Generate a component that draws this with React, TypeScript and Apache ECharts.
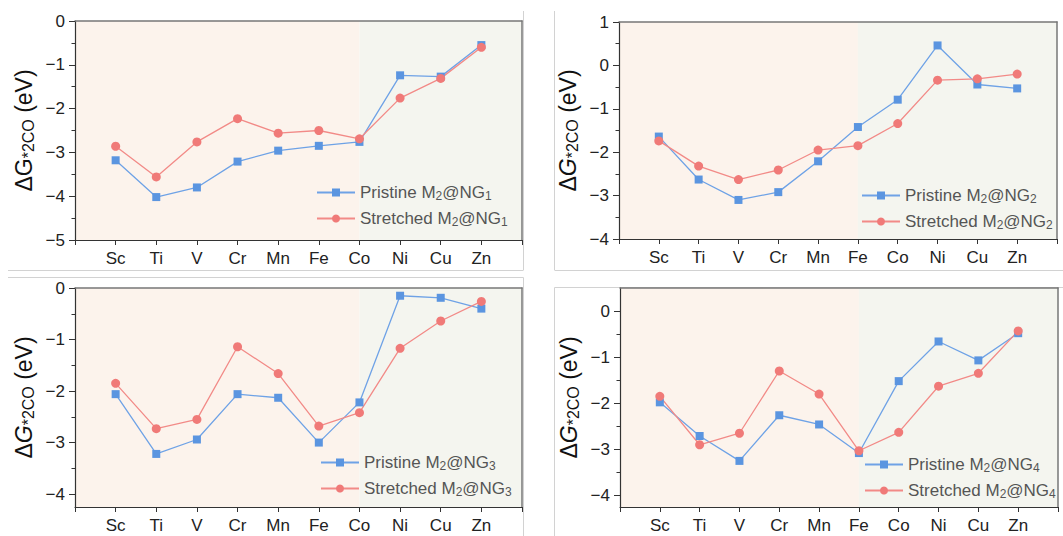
import React, { useEffect, useRef } from "react";
import * as echarts from "echarts";

// Transition metals along the x axis
const metals = ["Sc", "Ti", "V", "Cr", "Mn", "Fe", "Co", "Ni", "Cu", "Zn"];

// ΔG*2CO (eV), pristine vs stretched substrates
const pristineNG1 = [-3.18, -4.02, -3.8, -3.21, -2.96, -2.85, -2.76, -1.24, -1.27, -0.55];
const stretchedNG1 = [-2.86, -3.56, -2.76, -2.23, -2.56, -2.5, -2.69, -1.76, -1.31, -0.6];

const pristineNG2 = [-1.64, -2.63, -3.1, -2.92, -2.21, -1.42, -0.79, 0.46, -0.44, -0.53];
const stretchedNG2 = [-1.74, -2.32, -2.63, -2.41, -1.95, -1.85, -1.34, -0.34, -0.31, -0.2];

const pristineNG3 = [-2.06, -3.22, -2.94, -2.06, -2.13, -3.0, -2.22, -0.15, -0.19, -0.4];
const stretchedNG3 = [-1.85, -2.73, -2.55, -1.14, -1.66, -2.68, -2.42, -1.17, -0.64, -0.26];

const pristineNG4 = [-1.98, -2.71, -3.25, -2.26, -2.46, -3.08, -1.52, -0.66, -1.07, -0.48];
const stretchedNG4 = [-1.85, -2.9, -2.65, -1.3, -1.8, -3.03, -2.63, -1.63, -1.35, -0.43];

// y ranges and ticks per panel
const yRanges = [
  [-5, 0],
  [-4, 1],
  [-4.25, 0],
  [-4.25, 0.5],
];
const yMajor = [
  [-5, -4, -3, -2, -1, 0],
  [-4, -3, -2, -1, 0, 1],
  [-4, -3, -2, -1, 0],
  [-4, -3, -2, -1, 0],
];
const yMinor = [
  [-4.5, -3.5, -2.5, -1.5, -0.5],
  [-3.5, -2.5, -1.5, -0.5, 0.5],
  [-3.5, -2.5, -1.5, -0.5],
  [-3.5, -2.5, -1.5, -0.5],
];
// metal position (1-based) where the shading changes colour
const shadeSplit = [7, 6, 7, 6];

const FONT = "'Liberation Sans', Arial, Helvetica, sans-serif";
const BLUE = "#5b95e0";
const BLUE_LINE = "#6ea2e6";
const RED = "#f07a78";
const RED_LINE = "#f28a87";
const PEACH = "#fcf3ec";
const SAGE = "#f4f5ef";

const panels = [
  { pristine: pristineNG1, stretched: stretchedNG1, grid: { left: 75, top: 21, width: 447, height: 219 }, legend: { left: 311, top: 178 }, italic: false },
  { pristine: pristineNG2, stretched: stretchedNG2, grid: { left: 619, top: 22, width: 438, height: 217 }, legend: { left: 856, top: 181 }, italic: true },
  { pristine: pristineNG3, stretched: stretchedNG3, grid: { left: 75, top: 288, width: 447, height: 219 }, legend: { left: 315, top: 448 }, italic: true },
  { pristine: pristineNG4, stretched: stretchedNG4, grid: { left: 620, top: 288, width: 438, height: 219 }, legend: { left: 859, top: 450 }, italic: true },
];

const minus = (v: number) => String(v).replace("-", "\u2212");

function buildOption() {
  const grid: any[] = [];
  const xAxis: any[] = [];
  const yAxis: any[] = [];
  const series: any[] = [];
  const legend: any[] = [];

  panels.forEach((p, k) => {
    const [ymin, ymax] = yRanges[k];
    grid.push({ ...p.grid, containLabel: false });

    // bottom axis
    xAxis.push({
      type: "value",
      gridIndex: k,
      min: 0,
      max: metals.length + 1,
      interval: 1,
      z: 3,
      splitLine: { show: false },
      axisLine: { onZero: false, lineStyle: { color: "#333", width: 1.2 } },
      axisTick: { show: true, length: 5, lineStyle: { color: "#333" } },
      axisLabel: {
        margin: 10,
        fontFamily: FONT,
        fontSize: 17,
        color: "#222",
        showMinLabel: true,
        showMaxLabel: true,
        formatter: (v: number) => metals[v - 1] ?? "",
      },
    });
    // top frame
    xAxis.push({
      type: "value",
      gridIndex: k,
      position: "top",
      min: 0,
      max: metals.length + 1,
      z: 3,
      splitLine: { show: false },
      axisLine: { onZero: false, lineStyle: { color: "#777", width: 1.5 } },
      axisTick: { show: false },
      axisLabel: { show: false },
    });

    const g = p.italic ? "gi" : "g";
    // left axis with major ticks and labels
    yAxis.push({
      type: "value",
      gridIndex: k,
      position: "left",
      min: ymin,
      max: ymax,
      z: 3,
      splitLine: { show: false },
      axisLine: { onZero: false, lineStyle: { color: "#333", width: 1.2 } },
      axisTick: { show: true, length: 6, customValues: yMajor[k], lineStyle: { color: "#333" } },
      axisLabel: {
        margin: 10,
        fontFamily: FONT,
        fontSize: 17,
        color: "#222",
        customValues: yMajor[k],
        formatter: minus,
      },
      name: `{d|\u0394}{${g}|G}{s|*2CO}{d| (eV)}`,
      nameLocation: "middle",
      nameRotate: 90,
      nameGap: 38,
      nameTextStyle: {
        rich: {
          d: { fontFamily: FONT, fontSize: 23, color: "#111", lineHeight: 26 },
          g: { fontFamily: FONT, fontSize: 23, color: "#111", lineHeight: 26 },
          gi: { fontFamily: FONT, fontSize: 23, fontStyle: "italic", color: "#111", lineHeight: 26 },
          s: { fontFamily: FONT, fontSize: 16, color: "#111", lineHeight: 18, padding: [8, 0, 0, 0] },
        },
      },
    });
    // minor ticks
    yAxis.push({
      type: "value",
      gridIndex: k,
      position: "left",
      min: ymin,
      max: ymax,
      z: 3,
      splitLine: { show: false },
      axisLine: { show: false, onZero: false },
      axisTick: { show: true, length: 3.5, customValues: yMinor[k], lineStyle: { color: "#333" } },
      axisLabel: { show: false },
    });
    // right frame
    yAxis.push({
      type: "value",
      gridIndex: k,
      position: "right",
      min: ymin,
      max: ymax,
      z: 3,
      splitLine: { show: false },
      axisLine: { onZero: false, lineStyle: { color: "#777", width: 1.5 } },
      axisTick: { show: false },
      axisLabel: { show: false },
    });

    const xi = k * 2;
    const yi = k * 3;

    // shaded background halves
    series.push({
      type: "line",
      xAxisIndex: xi,
      yAxisIndex: yi,
      data: [],
      silent: true,
      z: 1,
      markArea: {
        silent: true,
        data: [
          [{ xAxis: 0, itemStyle: { color: PEACH } }, { xAxis: shadeSplit[k] }],
          [{ xAxis: shadeSplit[k], itemStyle: { color: SAGE } }, { xAxis: metals.length + 1 }],
        ],
      },
    });

    const pName = `Pristine M2@NG${k + 1}`;
    const sName = `Stretched M2@NG${k + 1}`;
    series.push({
      name: pName,
      type: "line",
      xAxisIndex: xi,
      yAxisIndex: yi,
      z: 5,
      data: p.pristine.map((v, i) => [i + 1, v]),
      symbol: "rect",
      symbolSize: 8,
      itemStyle: { color: BLUE },
      lineStyle: { color: BLUE_LINE, width: 1.3 },
    });
    series.push({
      name: sName,
      type: "line",
      xAxisIndex: xi,
      yAxisIndex: yi,
      z: 5,
      data: p.stretched.map((v, i) => [i + 1, v]),
      symbol: "circle",
      symbolSize: 9,
      itemStyle: { color: RED },
      lineStyle: { color: RED_LINE, width: 1.3 },
    });

    legend.push({
      data: [pName, sName],
      orient: "vertical",
      left: p.legend.left,
      top: p.legend.top,
      itemWidth: 38,
      itemHeight: 10,
      itemGap: 7,
      formatter: (name: string) => {
        const [word] = name.split(" ");
        return `{t|${word} M}{s|2}{t|@NG}{s|${k + 1}}`;
      },
      textStyle: {
        rich: {
          t: { fontFamily: FONT, fontSize: 17, color: "#555", lineHeight: 18 },
          s: { fontFamily: FONT, fontSize: 12, color: "#555", lineHeight: 12, padding: [7, 0, 0, 0] },
        },
      },
    });
  });

  // light panel separators
  const sep = { stroke: "#d2d2d2", lineWidth: 1 };
  const graphic = [
    { type: "line", shape: { x1: 523.5, y1: 11, x2: 523.5, y2: 270 }, style: sep },
    { type: "line", shape: { x1: 8, y1: 270.5, x2: 523.5, y2: 270.5 }, style: sep },
    { type: "line", shape: { x1: 8, y1: 277.5, x2: 523.5, y2: 277.5 }, style: sep },
    { type: "line", shape: { x1: 523.5, y1: 277.5, x2: 523.5, y2: 536 }, style: sep },
    { type: "line", shape: { x1: 554.5, y1: 11, x2: 554.5, y2: 270 }, style: sep },
    { type: "line", shape: { x1: 554.5, y1: 270.5, x2: 1063, y2: 270.5 }, style: sep },
    { type: "line", shape: { x1: 554.5, y1: 287.5, x2: 1063, y2: 287.5 }, style: sep },
    { type: "line", shape: { x1: 554.5, y1: 287.5, x2: 554.5, y2: 536 }, style: sep },
  ];

  return {
    animation: false,
    backgroundColor: "#ffffff",
    grid,
    xAxis,
    yAxis,
    series,
    legend,
    graphic,
  };
}

export default function App() {
  const ref = useRef<HTMLDivElement>(null);
  useEffect(() => {
    if (!ref.current) return;
    const chart = echarts.init(ref.current, undefined, { renderer: "svg" });
    chart.setOption(buildOption() as any);
    return () => chart.dispose();
  }, []);
  return (
    <div
      ref={ref}
      style={{ position: "fixed", left: 0, top: 0, width: 1063, height: 536 }}
    />
  );
}
